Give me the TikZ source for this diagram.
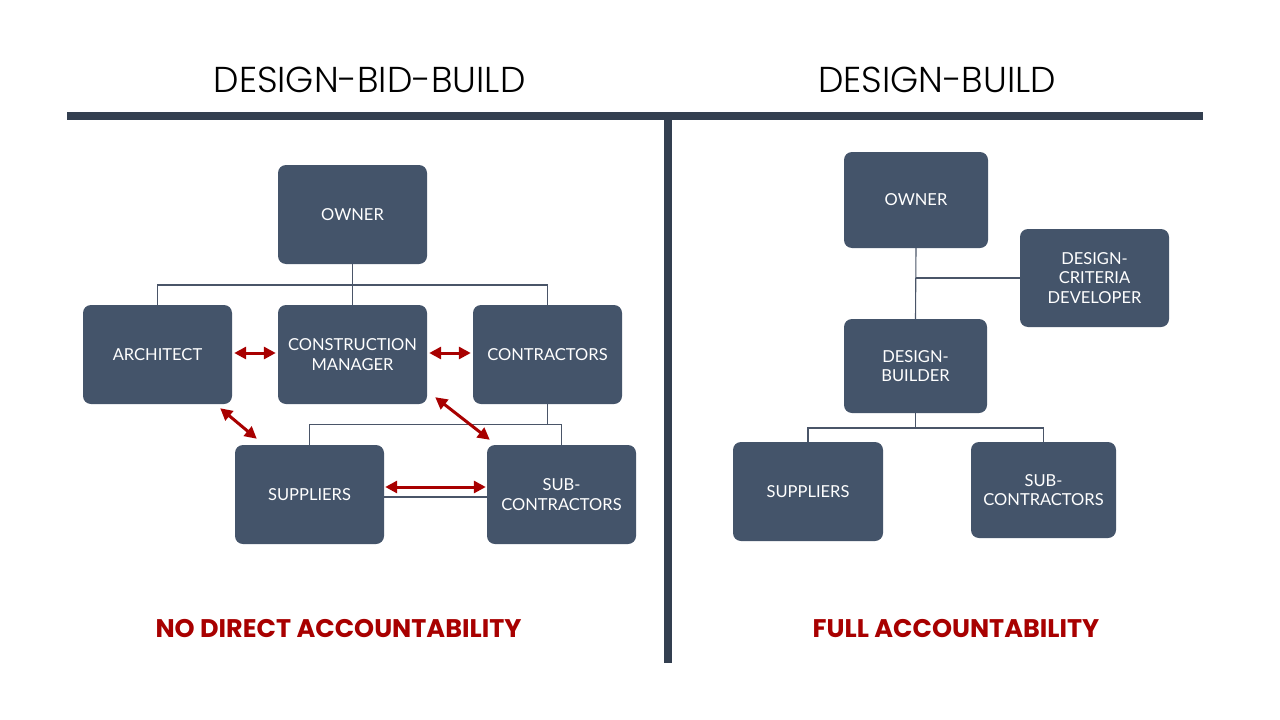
\documentclass[tikz,border=0pt]{standalone}
\usepackage{fontspec}
\setmainfont{Lato}
\newfontfamily\titlefont{Poppins Light}
\newfontfamily\accfont{Poppins}
\usetikzlibrary{arrows.meta}
\definecolor{boxc}{HTML}{44546A}
\definecolor{barc}{HTML}{333F50}
\definecolor{redc}{HTML}{A80000}
\definecolor{linec}{HTML}{4A5568}
\tikzset{
  org/.style={fill=boxc, rounded corners=8pt, text=white, align=center, inner sep=0pt,
    font=\fontsize{16.5}{19.5}\selectfont},
  conn/.style={draw=linec, line width=1.1pt},
  rel/.style={draw=redc, line width=3pt, {Triangle[length=12pt,width=12pt]}-{Triangle[length=12pt,width=12pt]}},
  ttl/.style={font=\titlefont\fontsize{36}{42}\selectfont, text=black, inner sep=0pt},
  acc/.style={font=\accfont\bfseries\fontsize{25.5}{30}\selectfont, text=redc, inner sep=0pt}
}
\begin{document}
\begin{tikzpicture}[x=1pt,y=-1pt]
\useasboundingbox (0,0) rectangle (1280,720);
\fill[white] (0,0) rectangle (1280,720);
% bars
\fill[barc] (67,112) rectangle (1203,120);
\fill[barc] (664,120) rectangle (672,663);
% titles
\node[ttl] (t1) at (369.5,80) {DESIGN-BID-BUILD};
\node[ttl] (t2) at (937,80) {DESIGN-BUILD};
\node[acc] (a1) at (338.5,629) {NO DIRECT ACCOUNTABILITY};
\node[acc] (a2) at (956,629) {FULL ACCOUNTABILITY};
% left boxes
\node[org, minimum width=149pt, minimum height=99pt] (ownL) at (352.5,214.5) {OWNER};
\node[org, minimum width=149pt, minimum height=99pt] (arch) at (157.5,354.5) {ARCHITECT};
\node[org, minimum width=149pt, minimum height=99pt] (cm) at (352.5,354.5) {CONSTRUCTION\\MANAGER};
\node[org, minimum width=149pt, minimum height=99pt] (contr) at (547.5,354.5) {CONTRACTORS};
\node[org, minimum width=149pt, minimum height=99pt] (supL) at (309.5,494.5) {SUPPLIERS};
\node[org, minimum width=149pt, minimum height=99pt] (subL) at (561.5,494.5) {SUB-\\CONTRACTORS};
% left connectors
\coordinate (j1) at (352.5,285);
\coordinate (j2) at (547.5,424.5);
\draw[conn] (ownL.south) -- (cm.north);
\draw[conn] (arch.north) |- (j1) -| (contr.north);
\draw[conn] (contr.south) -- (j2);
\draw[conn] (supL.north) |- (j2) -| (subL.north);
\draw[conn] ([yshift=-2.5pt]supL.east) -- ([yshift=-2.5pt]subL.west);
% red arrows
\draw[rel] ([shift={(2,-1.5)}]arch.east) -- ([shift={(-2,-1.5)}]cm.west);
\draw[rel] ([shift={(2,-1.5)}]cm.east) -- ([shift={(-2,-1.5)}]contr.west);
\draw[rel] ([shift={(-12,4)}]arch.south east) -- ([shift={(22,-6)}]supL.north west);
\draw[rel] ([shift={(8,-7)}]cm.south east) -- ([shift={(3,-5)}]subL.north west);
\draw[rel] ([shift={(1,-7.5)}]supL.east) -- ([shift={(-1,-7.5)}]subL.west);
% right boxes
\node[org, minimum width=144pt, minimum height=96pt] (ownR) at (916,200) {OWNER};
\node[org, minimum width=149pt, minimum height=98pt] (dcd) at (1094.5,278) {DESIGN-\\CRITERIA\\DEVELOPER};
\node[org, minimum width=143pt, minimum height=94pt] (db) at (915.5,366) {DESIGN-\\BUILDER};
\node[org, minimum width=150pt, minimum height=99pt] (supR) at (808,491.5) {SUPPLIERS};
\node[org, minimum width=145pt, minimum height=96pt] (subR) at (1043.5,490) {SUB-\\CONTRACTORS};
% right connectors
\coordinate (j3) at (915.5,428);
\draw[conn] (ownR.south) -- (db.north);
\draw[conn] (dcd.west) -- (dcd.west -| ownR.south);
\draw[conn] (db.south) -- (j3);
\draw[conn] (supR.north) |- (j3) -| (subR.north);
\end{tikzpicture}
\end{document}
